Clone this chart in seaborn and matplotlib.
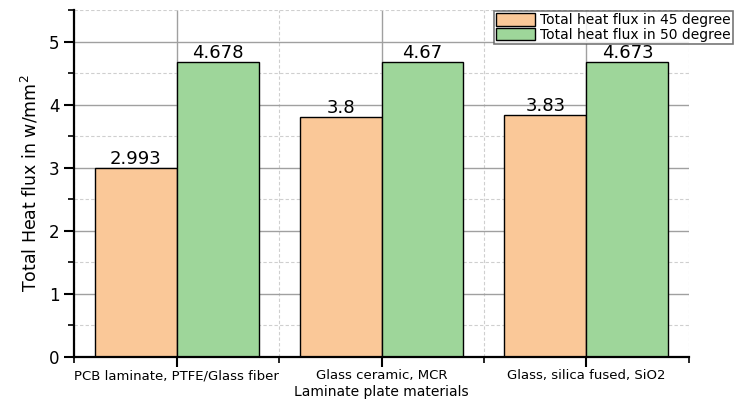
import matplotlib
matplotlib.use("Agg")
import matplotlib.pyplot as plt
from matplotlib.ticker import MultipleLocator, FixedLocator
import seaborn as sns
import pandas as pd

materials = ["PCB laminate, PTFE/Glass fiber", "Glass ceramic, MCR", "Glass, silica fused, SiO2"]
series_names = ["Total heat flux in 45 degree", "Total heat flux in 50 degree"]
flux_45 = [2.993, 3.8, 3.83]
flux_50 = [4.678, 4.67, 4.673]
bar_colors = ["#FAC898", "#9ED69A"]

df = pd.DataFrame({
    "material": materials * 2,
    "series": [series_names[0]] * 3 + [series_names[1]] * 3,
    "flux": flux_45 + flux_50,
})

sns.set_style("white")
plt.rcParams["font.family"] = ["DejaVu Sans"]
plt.rcParams["text.color"] = "black"
plt.rcParams["axes.labelcolor"] = "black"
plt.rcParams["xtick.color"] = "black"
plt.rcParams["ytick.color"] = "black"

fig = plt.figure(figsize=(7.35, 4.0), dpi=100)
ax = fig.add_axes([0.1007, 0.1075, 0.8367, 0.8675])

sns.barplot(data=df, x="material", y="flux", hue="series", palette=bar_colors,
            saturation=1, width=0.8, edgecolor="black", linewidth=1.0, ax=ax,
            legend=False)

for cont, vals in zip(ax.containers, [flux_45, flux_50]):
    ax.bar_label(cont, labels=[f"{v:g}" for v in vals], fontsize=13, padding=0,
                 color="black")

ax.set_xlim(-0.5, 2.5)
ax.set_ylim(0, 5.5)
ax.yaxis.set_major_locator(MultipleLocator(1))
ax.yaxis.set_minor_locator(MultipleLocator(0.5))
ax.xaxis.set_minor_locator(FixedLocator([-0.5, 0.5, 1.5, 2.5]))

ax.set_axisbelow(True)
ax.grid(True, which="major", color="#a0a0a0", linestyle="-", linewidth=1.0)
ax.grid(True, which="minor", color="#cfcfcf", linestyle=(0, (3, 2)), linewidth=0.8)

for side in ["top", "right"]:
    ax.spines[side].set_visible(False)
for side in ["left", "bottom"]:
    ax.spines[side].set_color("black")
    ax.spines[side].set_linewidth(1.6)

ax.tick_params(axis="both", which="major", direction="out", length=7, width=1.5,
               bottom=True, left=True)
ax.tick_params(axis="both", which="minor", direction="out", length=4, width=1.2,
               bottom=True, left=True)
ax.tick_params(axis="y", which="major", labelsize=12)
ax.tick_params(axis="x", which="major", labelsize=9.5, pad=2)

ax.set_xlabel("Laminate plate materials", fontsize=10, labelpad=2)
ax.set_ylabel("Total Heat flux in w/mm$^2$", fontsize=12.5, labelpad=6)

handles = [plt.Rectangle((0, 0), 1, 1, facecolor=c, edgecolor="black", linewidth=1.0)
           for c in bar_colors]
leg = fig.legend(handles, series_names, loc="upper right",
                 bbox_to_anchor=(0.997, 0.972), fontsize=10, frameon=True,
                 fancybox=False, borderpad=0.15, handlelength=2.8, handleheight=1.0,
                 labelspacing=0.05, handletextpad=0.4, borderaxespad=0)
leg.get_frame().set_edgecolor("#555555")
leg.get_frame().set_linewidth(1.2)

fig.savefig("out.png", dpi=100)
